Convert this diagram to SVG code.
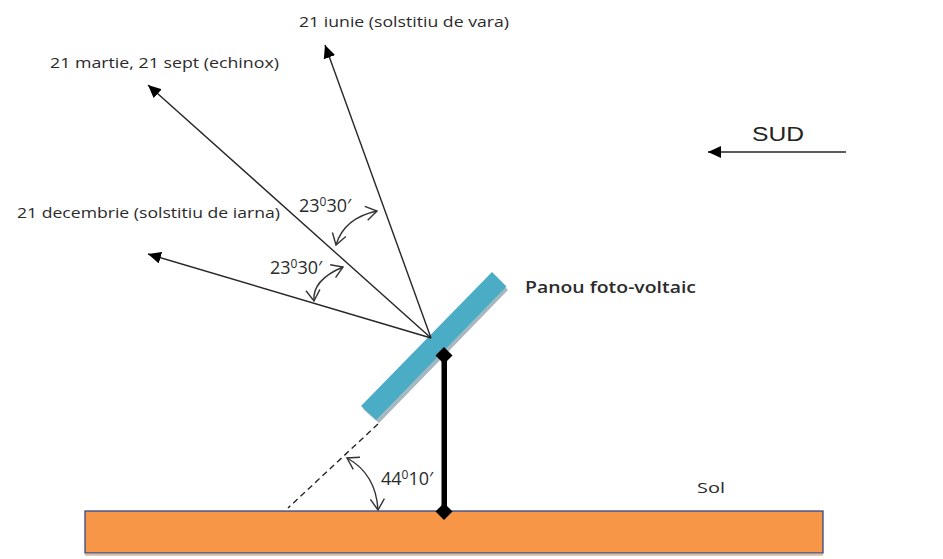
<svg xmlns="http://www.w3.org/2000/svg" width="943" height="559" viewBox="0 0 943 559">
<style>
text{font-family:"Open Sans","Liberation Sans",sans-serif;fill:#2b2b2b}
.l{font-size:14.500px}
.a{font-size:18px}
.s{font-size:12px}
.sud{font-family:"Liberation Sans",Arial,sans-serif;font-size:21px;fill:#222}
.ray{fill:none;stroke:#262626;stroke-width:1.4;marker-end:url(#tip)}
.arc{fill:none;stroke:#333;stroke-width:1.4;marker-start:url(#open);marker-end:url(#open)}
</style>
<defs>
<marker id="tip" markerUnits="userSpaceOnUse" markerWidth="14" markerHeight="12" refX="13" refY="6" orient="auto"><path d="M0 0L13 6L0 12Z" fill="#000"/></marker>
<marker id="open" markerUnits="userSpaceOnUse" markerWidth="14" markerHeight="16" refX="12" refY="8" orient="auto-start-reverse"><path d="M1 1L12 8L1 15" fill="none" stroke="#333" stroke-width="1.4"/></marker>
</defs>
<rect width="943" height="559" fill="#fff"/>
<g id="sol">
<rect x="85" y="511" width="738" height="42" fill="#f79646" stroke="#2f4a8c" stroke-width="1.3"/>
<rect x="85" y="553.700" width="738" height="2" fill="#d9b89c"/>
<text x="697" y="493" class="l" textLength="28" lengthAdjust="spacingAndGlyphs">Sol</text>
</g>
<g id="panou">
<polygon points="363,409 379,423 508,290 494,276" fill="#a5b9c0"/>
<polygon points="361,406 376,420 506.500,286.500 492,272" fill="#4bacc6"/>
<text x="525" y="293" font-size="15.500" font-weight="600" textLength="171" lengthAdjust="spacingAndGlyphs">Panou foto-voltaic</text>
</g>
<g id="suport">
<rect x="441.500" y="355" width="5.500" height="157" fill="#000"/>
<polygon points="444,347 452.500,355.500 444,364 435.500,355.500" fill="#000"/>
<polygon points="444,503 452.500,511.500 444,520 435.500,511.500" fill="#000"/>
</g>
<g id="conectori">
<line class="ray" x1="431" y1="338" x2="325" y2="45"/>
<line class="ray" x1="431" y1="338" x2="148" y2="85"/>
<line class="ray" x1="431" y1="338" x2="148" y2="254"/>
<line class="ray" x1="846" y1="152" x2="708" y2="152"/>
<line x1="378" y1="424" x2="288" y2="508" fill="none" stroke="#262626" stroke-width="1.400" stroke-dasharray="6 4"/>
<path class="arc" d="M336 245Q344 218 377 211"/>
<path class="arc" d="M314 301Q312 280 343 267"/>
<path class="arc" d="M347 458Q376 474 378 510"/>
</g>
<g id="etichete">
<text x="299" y="27" class="l" textLength="210" lengthAdjust="spacingAndGlyphs">21 iunie (solstitiu  de vara)</text>
<text x="50" y="68" class="l" textLength="229" lengthAdjust="spacingAndGlyphs">21 martie, 21 sept (echinox)</text>
<text x="17" y="218" class="l" textLength="263" lengthAdjust="spacingAndGlyphs">21 decembrie (solstitiu de iarna)</text>
<text x="752" y="141" class="sud" textLength="52" lengthAdjust="spacingAndGlyphs">SUD</text>
<text x="299" y="212" class="a">23<tspan class="s" dy="-6">0</tspan><tspan dy="6">30′</tspan></text>
<text x="270" y="274" class="a">23<tspan class="s" dy="-6">0</tspan><tspan dy="6">30′</tspan></text>
<text x="381" y="485" class="a">44<tspan class="s" dy="-6">0</tspan><tspan dy="6">10′</tspan></text>
</g>
</svg>
